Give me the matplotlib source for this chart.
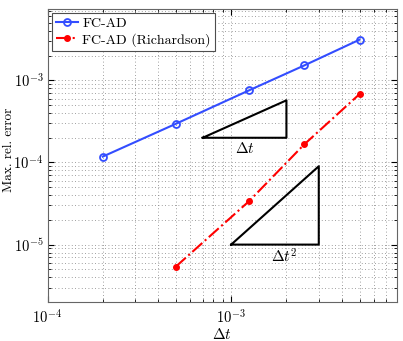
import numpy as np
import matplotlib
matplotlib.use('Agg')
from matplotlib import pyplot as plt
from matplotlib import ticker

# data
dt_ad = [2e-4, 5e-4, 1.25e-3, 2.5e-3, 5e-3]
err_ad = [1.18e-4, 2.96e-4, 7.55e-4, 1.52e-3, 3.13e-3]
dt_rich = [5e-4, 1.25e-3, 2.5e-3, 5e-3]
err_rich = [5.4e-6, 3.37e-5, 1.66e-4, 6.8e-4]

# slope triangles (corner points)
tri1_x = [7e-4, 2e-3, 2e-3, 7e-4]
tri1_y = [2e-4, 2e-4, 2e-4 * (2e-3 / 7e-4), 2e-4]
tri2_x = [1e-3, 3e-3, 3e-3, 1e-3]
tri2_y = [1e-5, 1e-5, 1e-5 * (3e-3 / 1e-3) ** 2, 1e-5]

plt.rcParams['mathtext.fontset'] = 'cm'
plt.rcParams['font.family'] = 'cmr10'
plt.rcParams['axes.formatter.use_mathtext'] = True

fig = plt.figure(figsize=(4.03, 3.41), dpi=100)
ax = fig.add_axes([47.5 / 403, 1 - 302 / 341, (397 - 47.5) / 403, (302 - 9) / 341])

ax.loglog(dt_ad, err_ad, '-o', color=(0.2, 0.3, 1.0), lw=1.5, ms=5,
          mfc='none', mew=1.3, label='FC-AD')
ax.loglog(dt_rich, err_rich, '-.', color='red', lw=1.5, marker='.', ms=8,
          label='FC-AD (Richardson)')
ax.plot(tri1_x, tri1_y, 'k-', lw=1.5)
ax.plot(tri2_x, tri2_y, 'k-', lw=1.5)

ax.text(np.sqrt(7e-4 * 2e-3), 1.5e-4, r'$\Delta t$', ha='center', va='center', fontsize=11)
ax.text(np.sqrt(1e-3 * 3e-3) * 1.12, 7.2e-6, r'$\Delta t^2$', ha='center', va='center', fontsize=11)

ax.set_xlim(1e-4, 8e-3)
ax.set_ylim(2e-6, 7.4e-3)

ax.grid(True, which='both', ls=(0, (1, 3)), color='0.5', lw=0.6)
ax.tick_params(which='both', direction='in', top=True, right=True)
ax.tick_params(which='major', length=4, labelsize=10.5)
ax.tick_params(axis='y', which='major', pad=3)
ax.tick_params(axis='x', which='major', pad=5)
ax.tick_params(which='minor', length=2)

fmt = ticker.FuncFormatter(lambda v, p: r'$\mathsf{10^{%d}}$' % round(np.log10(v)))
ax.xaxis.set_major_formatter(fmt)
ax.yaxis.set_major_formatter(fmt)
ax.xaxis.set_minor_formatter(ticker.NullFormatter())
ax.yaxis.set_minor_formatter(ticker.NullFormatter())

for s in ax.spines.values():
    s.set_color('0.4')

ax.set_xlabel(r'$\Delta t$', fontsize=11, labelpad=0)
ax.set_ylabel('Max. rel. error', fontsize=9.5)
ax.yaxis.set_label_coords(-0.094, 0.52)

leg = ax.legend(loc='upper left', fontsize=10, fancybox=False, framealpha=1,
                edgecolor='0.3', borderaxespad=0.3, handlelength=1.6,
                borderpad=0.3, labelspacing=0.2, handletextpad=0.3)
leg.get_frame().set_linewidth(0.8)

fig.savefig('out.png', dpi=100)
